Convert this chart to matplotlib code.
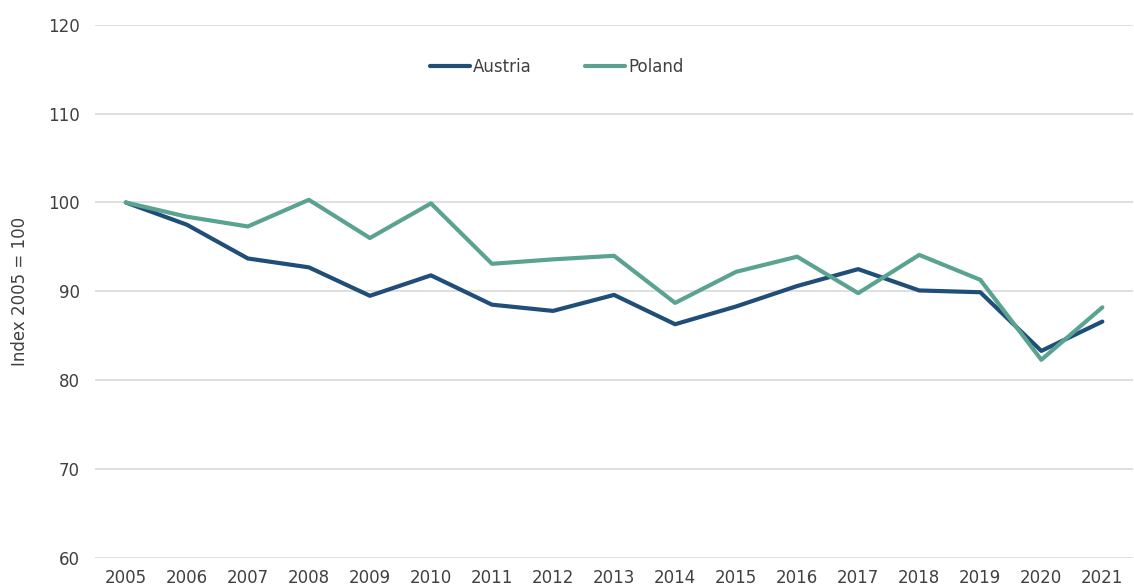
import matplotlib
matplotlib.use('Agg')
import matplotlib.pyplot as plt

years = [str(y) for y in range(2005, 2022)]
austria = [100, 97.5, 93.7, 92.7, 89.5, 91.8, 88.5, 87.8, 89.6, 86.3,
           88.3, 90.6, 92.5, 90.1, 89.9, 83.3, 86.6]
poland = [100, 98.4, 97.3, 100.3, 96.0, 99.9, 93.1, 93.6, 94.0, 88.7,
          92.2, 93.9, 89.8, 94.1, 91.3, 82.3, 88.2]

plt.rcParams['font.family'] = ['DejaVu Sans']
text_col = '#404040'

fig = plt.figure(figsize=(11.34, 5.88), dpi=100)
ax = fig.add_axes([0.084, 0.051, 0.915, 0.907])

x = range(len(years))
ax.plot(x, austria, color='#1f4e79', lw=3, label='Austria', solid_capstyle='round')
ax.plot(x, poland, color='#5ba391', lw=3, label='Poland', solid_capstyle='round')

ax.set_xlim(-0.5, len(years) - 0.5)
ax.set_ylim(60, 120)
ax.set_yticks(range(60, 121, 10))
ax.set_xticks(list(x))
ax.set_xticklabels(years)
ax.grid(axis='y', color='#d9d9d9', lw=1.2)
ax.set_axisbelow(True)
for s in ax.spines.values():
    s.set_visible(False)
ax.tick_params(length=0, labelsize=12, colors=text_col, pad=8)
ax.tick_params(axis='y', pad=11)
ax.set_ylabel('Index 2005 = 100', fontsize=12, color=text_col, labelpad=14)

fig.legend(loc='center', bbox_to_anchor=(0.491, 0.886), ncol=2, frameon=False,
           fontsize=12, handlelength=2.4, handletextpad=0.2, columnspacing=3.2,
           labelcolor=text_col)

fig.savefig('out.png', dpi=100)
